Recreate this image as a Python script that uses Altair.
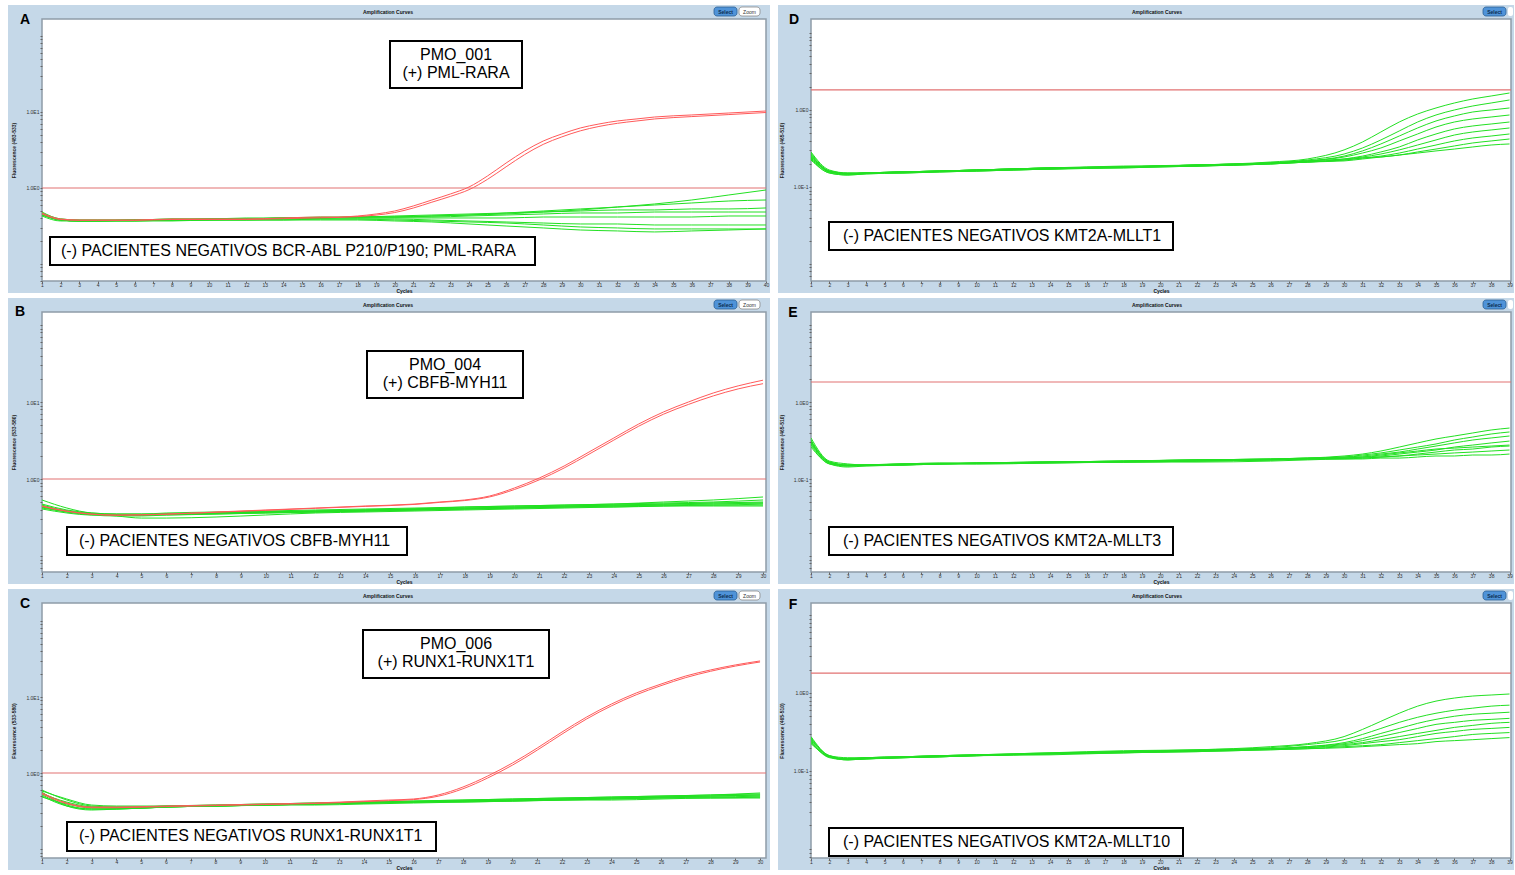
import altair as alt
import pandas as pd

BLUE = "#c5d8e8"
GREEN = "#22e022"
RED = "#ff5a5a"
THRESH = "#e27272"
FONT = "Liberation Sans"

# ---------------- Panel A (PML-RARA) ----------------
A_cycles = [1, 2, 3, 4, 6, 8, 10, 12, 14, 16, 18, 20, 22, 24, 26, 28, 30, 32, 34, 36, 38, 40]
A_green = [
    [.483, .391, .379, .379, .379, .391, .391, .391, .403, .403, .415, .415, .428, .441, .455, .483, .514, .562, .616, .695, .809, .941],
    [.455, .379, .368, .368, .379, .379, .391, .391, .403, .403, .415, .415, .428, .441, .469, .498, .530, .562, .597, .635, .674, .695],
    [.469, .391, .379, .379, .379, .391, .391, .403, .403, .415, .415, .428, .441, .455, .469, .483, .498, .514, .514, .530, .530, .546],
    [.441, .379, .368, .368, .379, .379, .391, .391, .403, .403, .415, .415, .415, .428, .441, .455, .469, .469, .483, .483, .483, .483],
    [.428, .368, .368, .368, .379, .379, .379, .391, .391, .403, .403, .403, .403, .403, .403, .415, .415, .415, .415, .415, .428, .428],
    [.455, .379, .368, .368, .368, .379, .379, .379, .391, .391, .391, .391, .379, .368, .357, .346, .336, .336, .326, .326, .326, .326],
    [.441, .379, .368, .368, .368, .368, .379, .379, .379, .379, .379, .368, .357, .336, .316, .298, .280, .272, .264, .272, .280, .289],
    [.469, .379, .368, .368, .368, .379, .379, .379, .379, .391, .391, .379, .368, .357, .346, .326, .307, .298, .289, .289, .289, .289],
]
A_red_cycles = [1, 2, 3, 4, 6, 8, 10, 12, 14, 16, 17, 18, 19, 20, 21, 22, 23, 24, 25, 26, 27, 28, 29, 30, 31, 32, 33, 34, 36, 38, 40]
A_red = [
    [.469, .391, .379, .379, .379, .391, .391, .391, .403, .415, .415, .428, .455, .498, .580, .695, .834, 1.03, 1.44, 2.13, 3.07, 4.15, 5.14, 6.16, 6.95, 7.62, 8.09, 8.59, 9.14, 9.70, 10.3],
    [.455, .385, .375, .375, .375, .385, .385, .385, .395, .405, .410, .420, .440, .475, .545, .650, .775, .950, 1.30, 1.90, 2.75, 3.75, 4.70, 5.65, 6.45, 7.10, 7.60, 8.10, 8.70, 9.25, 9.85],
]
A_threshold = 1.0

# ---------------- Panel B (CBFB-MYH11) ----------------
B_cycles = [1, 2, 3, 4, 5, 6, 8, 10, 12, 14, 16, 18, 20, 22, 24, 26, 28, 30]
B_green = [
    [.534, .420, .362, .351, .351, .362, .373, .384, .396, .408, .420, .433, .446, .459, .473, .488, .503, .534],
    [.459, .384, .351, .341, .341, .351, .362, .373, .384, .396, .408, .420, .433, .446, .459, .473, .488, .503],
    [.420, .373, .341, .331, .331, .341, .351, .362, .373, .384, .396, .408, .420, .433, .446, .459, .459, .473],
    [.433, .384, .351, .331, .311, .311, .321, .341, .362, .373, .384, .396, .408, .420, .433, .446, .446, .446],
    [.408, .362, .341, .341, .341, .351, .362, .373, .384, .396, .408, .420, .433, .446, .459, .473, .488, .488],
    [.446, .384, .351, .341, .341, .351, .362, .373, .373, .384, .396, .408, .420, .433, .433, .446, .459, .459],
    [.473, .396, .362, .351, .351, .351, .362, .373, .384, .396, .408, .433, .446, .459, .473, .503, .534, .584],
    [.433, .373, .351, .341, .341, .341, .351, .362, .373, .384, .396, .408, .420, .433, .446, .459, .473, .488],
]
B_red_cycles = [1, 2, 3, 4, 6, 8, 10, 12, 14, 16, 17, 18, 19, 20, 21, 22, 23, 24, 25, 26, 27, 28, 29, 30]
B_red = [
    [.446, .384, .351, .341, .351, .373, .396, .420, .446, .473, .503, .534, .601, .764, 1.03, 1.475, 2.24, 3.41, 5.18, 7.43, 10.0, 13.1, 16.2, 19.2],
    [.440, .380, .348, .338, .348, .370, .392, .416, .441, .468, .497, .525, .585, .730, .975, 1.39, 2.10, 3.20, 4.85, 6.95, 9.30, 12.0, 14.8, 17.3],
]
B_threshold = 1.0

# ---------------- Panel C (RUNX1-RUNX1T1) ----------------
C_cycles = [1, 2, 3, 4, 5, 6, 8, 10, 12, 14, 16, 18, 20, 22, 24, 26, 28, 30]
C_green = [
    [.597, .441, .368, .357, .357, .368, .379, .391, .403, .415, .428, .441, .455, .469, .483, .498, .514, .530],
    [.546, .403, .346, .346, .346, .357, .368, .379, .391, .403, .415, .428, .441, .455, .469, .483, .498, .514],
    [.514, .379, .336, .336, .346, .357, .368, .379, .391, .403, .415, .428, .428, .441, .455, .469, .483, .483],
    [.562, .368, .326, .336, .346, .357, .368, .379, .391, .403, .415, .415, .428, .441, .441, .455, .469, .469],
    [.483, .391, .357, .357, .357, .368, .368, .379, .391, .403, .415, .428, .441, .455, .469, .483, .498, .514],
    [.580, .455, .379, .368, .368, .368, .379, .391, .403, .415, .428, .441, .455, .469, .483, .498, .514, .546],
    [.530, .415, .357, .346, .346, .357, .368, .379, .379, .391, .403, .415, .428, .441, .455, .469, .469, .483],
    [.498, .368, .336, .336, .346, .357, .368, .379, .391, .403, .415, .428, .441, .455, .469, .483, .483, .498],
]
C_red_cycles = [1, 2, 3, 4, 6, 8, 10, 12, 14, 15, 16, 17, 18, 19, 20, 21, 22, 23, 24, 25, 26, 27, 28, 29, 30]
C_red = [
    [.546, .403, .357, .357, .368, .379, .391, .403, .428, .441, .455, .514, .654, .913, 1.353, 2.13, 3.46, 5.46, 8.09, 11.3, 14.8, 18.9, 22.7, 26.4, 29.8],
    [.530, .395, .350, .350, .362, .373, .385, .397, .420, .433, .447, .495, .620, .860, 1.27, 2.00, 3.25, 5.15, 7.65, 10.7, 14.1, 18.0, 21.8, 25.5, 28.9],
]
C_threshold = 1.0

# ---------------- Panel D (KMT2A-MLLT1) ----------------
D_cycles = [1, 2, 3, 4, 6, 8, 10, 14, 18, 22, 26, 28, 30, 31, 32, 33, 34, 35, 36, 37, 38, 39]
D_green = [
    [.260, .157, .148, .152, .157, .161, .166, .177, .187, .193, .211, .231, .303, .384, .518, .698, .887, 1.062, 1.233, 1.390, 1.520, 1.663],
    [.285, .166, .152, .152, .157, .161, .166, .177, .182, .193, .205, .224, .268, .321, .408, .534, .698, .861, 1.0, 1.127, 1.233, 1.349],
    [.238, .157, .148, .152, .157, .161, .166, .177, .182, .193, .205, .218, .252, .294, .362, .459, .584, .720, .836, .942, 1.0, 1.062],
    [.252, .161, .148, .152, .152, .157, .161, .171, .182, .187, .205, .218, .245, .276, .321, .396, .488, .601, .698, .764, .811, .861],
    [.224, .152, .143, .148, .152, .157, .161, .171, .177, .187, .199, .211, .231, .252, .285, .331, .408, .488, .567, .620, .658, .698],
    [.268, .157, .148, .152, .157, .161, .166, .177, .182, .193, .205, .218, .231, .245, .268, .303, .351, .408, .473, .518, .550, .584],
    [.245, .161, .152, .152, .157, .161, .166, .171, .182, .187, .199, .211, .224, .238, .252, .276, .311, .351, .396, .433, .459, .488],
    [.231, .152, .143, .148, .152, .157, .161, .171, .177, .187, .199, .211, .218, .231, .245, .260, .285, .311, .341, .373, .396, .420],
    [.276, .161, .148, .152, .157, .161, .166, .177, .182, .193, .205, .211, .224, .238, .245, .260, .276, .294, .311, .331, .351, .362],
]
D_threshold = 1.82

# ---------------- Panel E (KMT2A-MLLT3) ----------------
E_cycles = [1, 2, 3, 4, 6, 8, 10, 14, 18, 22, 26, 28, 30, 31, 32, 33, 34, 35, 36, 37, 38, 39]
E_green = [
    [.303, .166, .152, .152, .157, .157, .161, .166, .171, .177, .182, .187, .199, .211, .231, .260, .294, .331, .362, .396, .433, .459],
    [.341, .171, .157, .152, .157, .161, .161, .166, .171, .177, .182, .187, .193, .205, .218, .238, .260, .285, .321, .351, .384, .408],
    [.285, .161, .148, .152, .157, .157, .161, .166, .171, .177, .182, .187, .193, .199, .211, .224, .245, .268, .294, .321, .341, .362],
    [.321, .166, .152, .152, .152, .157, .161, .166, .166, .171, .177, .182, .187, .193, .199, .211, .224, .238, .260, .276, .294, .311],
    [.260, .157, .143, .148, .152, .157, .157, .161, .166, .171, .177, .182, .187, .187, .193, .199, .211, .224, .238, .245, .260, .268],
    [.311, .161, .148, .152, .152, .157, .161, .166, .166, .171, .177, .182, .182, .187, .193, .199, .205, .211, .218, .224, .231, .238],
    [.276, .157, .148, .148, .152, .157, .157, .161, .166, .166, .171, .177, .182, .182, .187, .187, .193, .199, .199, .205, .205, .211],
    [.294, .166, .152, .152, .157, .161, .161, .166, .171, .177, .177, .182, .187, .193, .205, .218, .231, .245, .252, .260, .268, .276],
]
E_threshold = 1.82

# ---------------- Panel F (KMT2A-MLLT10) ----------------
F_cycles = [1, 2, 3, 4, 6, 8, 10, 14, 18, 22, 26, 28, 30, 31, 32, 33, 34, 35, 36, 37, 38, 39]
F_green = [
    [.245, .152, .143, .148, .152, .157, .161, .171, .182, .187, .205, .224, .276, .341, .433, .550, .678, .787, .861, .914, .942, .971],
    [.268, .157, .148, .148, .152, .157, .161, .171, .177, .187, .199, .218, .252, .294, .351, .420, .488, .550, .601, .639, .678, .698],
    [.224, .152, .139, .143, .148, .152, .157, .166, .177, .182, .193, .205, .231, .260, .303, .351, .408, .459, .503, .534, .550, .567],
    [.252, .157, .143, .148, .152, .157, .161, .166, .177, .182, .193, .205, .224, .245, .276, .311, .351, .396, .420, .446, .459, .473],
    [.238, .148, .139, .143, .148, .152, .157, .166, .171, .182, .193, .199, .218, .231, .252, .276, .303, .331, .362, .384, .408, .420],
    [.276, .157, .143, .148, .152, .157, .161, .166, .177, .182, .193, .199, .211, .224, .238, .252, .276, .303, .321, .341, .351, .362],
    [.231, .152, .143, .143, .148, .152, .157, .166, .171, .177, .187, .193, .205, .211, .218, .231, .245, .260, .276, .294, .303, .311],
    [.260, .152, .139, .143, .148, .152, .157, .161, .171, .177, .187, .193, .199, .205, .211, .218, .224, .238, .245, .252, .260, .268],
]
F_threshold = 1.80

LE_HI = "datum.value == 1 ? '1.0E0' : (datum.value == 10 ? '1.0E1' : '')"
LE_LO = "datum.value == 1 ? '1.0E0' : (datum.value == 0.1 ? '1.0E-1' : '')"

one = pd.DataFrame({"k": [0]})


def long_df(cycles, curves, prefix):
    rows = []
    for i, curve in enumerate(curves):
        for c, v in zip(cycles, curve):
            rows.append({"cycle": c, "value": v, "curve": f"{prefix}{i}"})
    return pd.DataFrame(rows)


def log_ticks(lo, hi):
    vals = []
    for e in range(-3, 3):
        for m in range(1, 10):
            v = round(m * 10.0 ** e, 6)
            if lo <= v <= hi:
                vals.append(v)
    return vals


def txt(text, x, y, size, align="center", bold=False, color="black"):
    return alt.Chart(one).mark_text(
        text=text, font=FONT, fontSize=size, align=align, baseline="middle",
        fontWeight="bold" if bold else "normal", color=color,
    ).encode(x=alt.value(x), y=alt.value(y))


def box(x0, y0, x1, y1, fill, stroke, sw, radius=0):
    return alt.Chart(one).mark_rect(
        fill=fill, stroke=stroke, strokeWidth=sw, cornerRadius=radius
    ).encode(x=alt.value(x0), x2=alt.value(x1), y=alt.value(y0), y2=alt.value(y1))


def panel(p):
    W, H = p["width"], p["height"]
    ml, mt, mr, mb = p["margins"]
    xsc = alt.Scale(domain=[1, p["xmax"]], nice=False, zero=False)
    ysc = alt.Scale(type="log", domain=p["ydomain"], nice=False)
    xaxis = alt.Axis(
        values=p["xticks"], format="d", title="Cycles", labelFont=FONT, titleFont=FONT,
        labelFontSize=5, titleFontSize=5, titleFontWeight="bold", tickSize=2,
        tickColor="#666", labelPadding=-1, titlePadding=1, labelFlush=False,
        labelOverlap=False, domain=False, grid=False, zindex=1,
        labelColor="#333", titleColor="#111",
    )
    yaxis = alt.Axis(
        values=log_ticks(*p["ydomain"]), labelExpr=p["labelexpr"], title=p["ytitle"],
        labelFont=FONT, titleFont=FONT, labelFontSize=5, titleFontSize=5, tickSize=2,
        tickColor="#666", labelPadding=1, titlePadding=9, labelFlush=False,
        labelOverlap=False, domain=False, grid=False, zindex=1,
        labelColor="#333", titleColor="#222",
    )
    X = alt.X("cycle:Q", scale=xsc, axis=xaxis)
    Y = alt.Y("value:Q", scale=ysc, axis=yaxis)

    layers = [
        box(-ml, -mt, W + mr, H + mb, BLUE, BLUE, 0),
        box(0, 0, W, H, "white", "#8e9ca8", 1.5),
        alt.Chart(pd.DataFrame({"value": [p["threshold"]]}))
        .mark_rule(color=THRESH, strokeWidth=1.2)
        .encode(y=Y),
        alt.Chart(long_df(p["cycles"], p["green"], "g"))
        .mark_line(color=GREEN, strokeWidth=1, interpolate="monotone", clip=True)
        .encode(x=X, y=Y, detail="curve:N"),
    ]
    if p.get("red"):
        layers.append(
            alt.Chart(long_df(p["red_cycles"], p["red"], "r"))
            .mark_line(color=RED, strokeWidth=1, interpolate="monotone", clip=True)
            .encode(x=X, y=Y, detail="curve:N")
        )
    for b in p["boxes"]:
        x0, y0, x1, y1 = b["rect"]
        layers.append(box(x0, y0, x1, y1, "white", "black", 2))
        for (t, tx, ty, al) in b["lines"]:
            layers.append(txt(t, tx, ty, 16, align=al))
    # header
    layers.append(txt("Amplification Curves", 346, -7, 5, bold=True, color="#111"))
    layers.append(box(672, -12, 695, -3, "#4f93d8", "#2c5f94", 0.8, 3))
    layers.append(txt("Select", 683.5, -7.5, 5, bold=True, color="#0b2b50"))
    if p["zoom_full"]:
        layers.append(box(697, -12, 718, -3, "white", "#8a8a8a", 0.8, 3))
        layers.append(txt("Zoom", 707.5, -7.5, 5, color="#333"))
    else:
        layers.append(box(697, -12, W + mr - 1, -3, "white", "white", 0, 2))
    lx, ly = p["letter_pos"]
    layers.append(txt(p["letter"], lx, ly, 14, bold=True))
    return alt.layer(*layers).properties(width=W, height=H)


panels = {
    "A": dict(cycles=A_cycles, green=A_green, red_cycles=A_red_cycles, red=A_red,
              threshold=A_threshold, width=724, height=262, margins=(34, 14, 4, 12),
              xmax=40, xticks=list(range(1, 41)), ydomain=[0.0597, 167.4],
              labelexpr=LE_HI, ytitle="Fluorescence (483-533)", letter="A",
              letter_pos=(-17, 1), zoom_full=True,
              boxes=[dict(rect=(348, 22, 480, 69),
                          lines=[("PMO_001", 414, 36, "center"), ("(+) PML-RARA", 414, 54, "center")]),
                     dict(rect=(8, 218, 493, 246),
                          lines=[("(-) PACIENTES NEGATIVOS BCR-ABL P210/P190; PML-RARA", 19, 232, "left")])]),
    "B": dict(cycles=B_cycles, green=B_green, red_cycles=B_red_cycles, red=B_red,
              threshold=B_threshold, width=724, height=260, margins=(34, 14, 4, 12),
              xmax=30.12, xticks=list(range(1, 31)), ydomain=[0.0620, 147.5],
              labelexpr=LE_HI, ytitle="Fluorescence (533-580)", letter="B",
              letter_pos=(-22, 0), zoom_full=True,
              boxes=[dict(rect=(325, 39, 481, 86),
                          lines=[("PMO_004", 403, 53, "center"), ("(+) CBFB-MYH11", 403, 71, "center")]),
                     dict(rect=(25, 215, 365, 243),
                          lines=[("(-) PACIENTES NEGATIVOS CBFB-MYH11", 37, 229, "left")])]),
    "C": dict(cycles=C_cycles, green=C_green, red_cycles=C_red_cycles, red=C_red,
              threshold=C_threshold, width=724, height=255, margins=(34, 14, 4, 12),
              xmax=30.24, xticks=list(range(1, 31)), ydomain=[0.0762, 172.5],
              labelexpr=LE_HI, ytitle="Fluorescence (533-580)", letter="C",
              letter_pos=(-17, 1), zoom_full=True,
              boxes=[dict(rect=(321, 27, 507, 75),
                          lines=[("PMO_006", 414, 41, "center"), ("(+) RUNX1-RUNX1T1", 414, 59, "center")]),
                     dict(rect=(25, 219, 394, 248),
                          lines=[("(-) PACIENTES NEGATIVOS RUNX1-RUNX1T1", 37, 233, "left")])]),
    "D": dict(cycles=D_cycles, green=D_green, threshold=D_threshold, width=700, height=262,
              margins=(33, 14, 3, 12), xmax=39.08, xticks=list(range(1, 40)),
              ydomain=[0.00601, 15.20], labelexpr=LE_LO, ytitle="Fluorescence (465-510)",
              letter="D", letter_pos=(-17, 1), zoom_full=False,
              boxes=[dict(rect=(18, 203, 362, 231),
                          lines=[("(-) PACIENTES NEGATIVOS KMT2A-MLLT1", 32, 217, "left")])]),
    "E": dict(cycles=E_cycles, green=E_green, threshold=E_threshold, width=700, height=260,
              margins=(33, 14, 3, 12), xmax=39.08, xticks=list(range(1, 40)),
              ydomain=[0.00620, 14.75], labelexpr=LE_LO, ytitle="Fluorescence (465-510)",
              letter="E", letter_pos=(-18, 1), zoom_full=False,
              boxes=[dict(rect=(18, 215, 362, 243),
                          lines=[("(-) PACIENTES NEGATIVOS KMT2A-MLLT3", 32, 229, "left")])]),
    "F": dict(cycles=F_cycles, green=F_green, threshold=F_threshold, width=700, height=255,
              margins=(33, 14, 3, 12), xmax=39.08, xticks=list(range(1, 40)),
              ydomain=[0.00766, 14.25], labelexpr=LE_LO, ytitle="Fluorescence (465-510)",
              letter="F", letter_pos=(-18, 2), zoom_full=False,
              boxes=[dict(rect=(18, 225, 372, 253),
                          lines=[("(-) PACIENTES NEGATIVOS KMT2A-MLLT10", 32, 239, "left")])]),
}

charts = {k: panel(v) for k, v in panels.items()}

chart = alt.vconcat(
    alt.hconcat(charts["A"], charts["D"], spacing=8),
    alt.hconcat(charts["B"], charts["E"], spacing=8),
    alt.hconcat(charts["C"], charts["F"], spacing=8),
    spacing=5,
).properties(
    padding={"left": 8, "top": 5, "right": 0, "bottom": 0},
    background="white",
).configure_view(strokeWidth=0)

chart.save("out.html", embed_options={"renderer": "svg", "actions": False})
